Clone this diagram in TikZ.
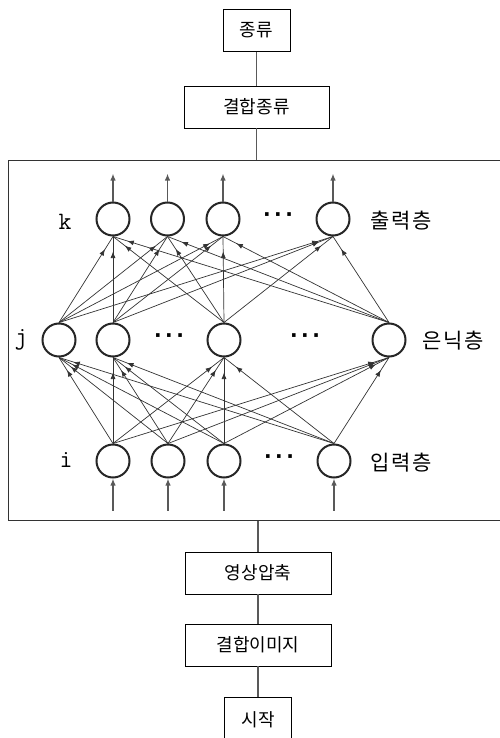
\documentclass[tikz,border=0pt]{standalone}
\usepackage{fontspec}
\newfontfamily\kr{Noto Sans CJK KR}
\newfontfamily\dotfont[LetterSpace=18]{DejaVu Sans}
\usetikzlibrary{arrows.meta,decorations.markings}

\tikzset{
  box/.style={draw=black, line width=0.9pt, inner sep=0, minimum height=42pt,
    font=\kr\fontsize{18}{18}\selectfont},
  netframe/.style={draw=black!80, line width=1pt, inner sep=0},
  neuron/.style={circle, draw=black!85, line width=2pt, minimum size=33pt, inner sep=0},
  link/.style={draw=black!80, line width=0.7pt, postaction=decorate,
    decoration={markings, mark=at position -15pt with {\arrow{Latex[length=6.5pt,width=5pt]}}}},
  iobar/.style={draw=black!65, line width=1.8pt, -{Latex[length=7pt,width=5.5pt]}},
  spine/.style={draw=black!65, line width=1.1pt},
  layername/.style={font=\kr\fontsize{21}{21}\selectfont\addfontfeature{LetterSpace=8}},
  idx/.style={font=\ttfamily\fontsize{25}{25}\selectfont},
  dots/.style={font=\dotfont\bfseries\fontsize{20}{20}\selectfont, inner sep=0},
}

\begin{document}
\begin{tikzpicture}[x=1pt, y=-1pt]
\useasboundingbox (0,0) rectangle (500,738);
\clip (0,0) rectangle (500,738);

% process boxes
\node[box, minimum width=67pt]  (cls)   at (256.5,30.5) {종류};
\node[box, minimum width=145pt] (ccls)  at (256.5,107)  {결합종류};
\node[netframe, minimum width=496pt, minimum height=359pt] (net) at (256,340.5) {};
\node[box, minimum width=146pt] (comp)  at (258,573)    {영상압축};
\node[box, minimum width=146pt] (cimg)  at (258,645)    {결합이미지};
\node[box, minimum width=67pt, minimum height=46pt] (start) at (258,720) {시작};

\draw[spine] (cls.south)  -- (cls.south |- ccls.north);
\draw[spine] (ccls.south) -- (ccls.south |- net.north);
\draw[spine] (comp.north |- net.south) -- (comp.north);
\draw[spine] (comp.south) -- (cimg.north);
\draw[spine] (cimg.south) -- (start.north);

% output layer
\node[neuron] (o1) at (113,219) {};
\node[neuron] (o2) at (167.5,219) {};
\node[neuron] (o3) at (223,219) {};
\node[neuron] (o4) at (333,219) {};
% hidden layer
\node[neuron] (h1) at (59,340) {};
\node[neuron] (h2) at (113,340) {};
\node[neuron] (h3) at (224,340) {};
\node[neuron] (h4) at (389,340) {};
% input layer
\node[neuron] (i1) at (113,461) {};
\node[neuron] (i2) at (168,461) {};
\node[neuron] (i3) at (224,461) {};
\node[neuron] (i4) at (334,461) {};

% weighted connections
\foreach \a in {h1,h2,h3,h4}
  \foreach \b in {o1,o2,o3,o4}
    \draw[link] (\a.north) -- (\b.south);
\foreach \a in {i1,i2,i3,i4}
  \foreach \b in {h1,h2,h3,h4}
    \draw[link] (\a.north) -- (\b.south);

% outputs and inputs
\foreach \b in {o1,o2,o3,o4}
  \draw[iobar] (\b.north) -- ([yshift=28pt]\b.north);
\foreach \a in {i1,i2,i3,i4}
  \draw[iobar] ([yshift=-32pt]\a.south) -- (\a.south);

% ellipses
\node[dots] (d1) at (278,217) {···};
\node[dots] (d2) at (169,338) {···};
\node[dots] (d3) at (305,338) {···};
\node[dots] (d4) at (279,459) {···};

% layer indices and names
\node[idx] (lk) at (65,222) {k};
\node[idx] (lj) at (21,340) {j};
\node[idx] (li) at (66,460) {i};
\node[layername] (nk) at (401,221) {출력층};
\node[layername] (nj) at (453,341) {은닉층};
\node[layername] (ni) at (401,463) {입력층};
\end{tikzpicture}
\end{document}
